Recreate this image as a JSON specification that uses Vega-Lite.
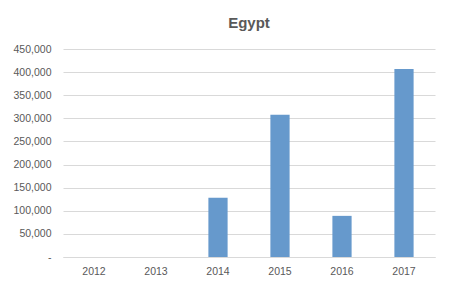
{
  "$schema": "https://vega.github.io/schema/vega-lite/v6.json",
  "autosize": "none",
  "width": 372,
  "height": 208,
  "padding": {"left": 63, "top": 49, "right": 15, "bottom": 31},
  "background": "white",
  "title": {"text": "Egypt", "fontSize": 15, "font": "Liberation Sans", "fontWeight": "bold", "color": "#595959", "offset": 13, "anchor": "middle"},
  "data": {"values": [
    {"year": "2012", "value": 0},
    {"year": "2013", "value": 0},
    {"year": "2014", "value": 128000},
    {"year": "2015", "value": 308000},
    {"year": "2016", "value": 89000},
    {"year": "2017", "value": 407000}
  ]},
  "mark": {"type": "bar", "color": "#6699cc"},
  "encoding": {
    "x": {"field": "year", "type": "ordinal", "title": null,
      "scale": {"paddingInner": 0.69, "paddingOuter": 0.345},
      "axis": {"labelAngle": 0, "ticks": false, "domainColor": "#d9d9d9", "labelPadding": 9, "labelFontSize": 10.5, "labelFont": "Liberation Sans", "labelColor": "#595959"}},
    "y": {"field": "value", "type": "quantitative", "title": null,
      "scale": {"domain": [0, 450000]},
      "axis": {"values": [0, 50000, 100000, 150000, 200000, 250000, 300000, 350000, 400000, 450000],
        "labelExpr": "datum.value == 0 ? '-    ' : format(datum.value, ',')",
        "ticks": false, "domain": false, "gridColor": "#d9d9d9", "labelPadding": 12, "labelFontSize": 10.5, "labelFont": "Liberation Sans", "labelColor": "#595959"}}
  },
  "config": {"view": {"stroke": null}}
}
